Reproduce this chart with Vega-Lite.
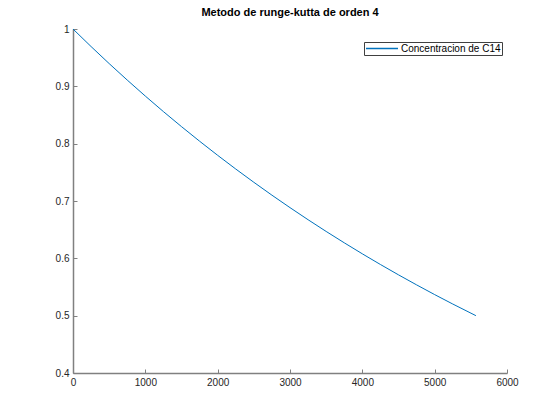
{
  "$schema": "https://vega.github.io/schema/vega-lite/v6.json",
  "autosize": "none",
  "width": 434,
  "height": 344,
  "padding": {"left": 73, "top": 29, "right": 53, "bottom": 47},
  "background": "white",
  "title": {"text": "Metodo de runge-kutta de orden 4", "font": "Liberation Sans", "fontSize": 11, "fontWeight": "bold", "color": "#000000", "offset": 6, "anchor": "middle"},
  "data": {"values": [
    {"t": 0, "c": 1, "s": "Concentracion de C14"},
    {"t": 250, "c": 0.96937, "s": "Concentracion de C14"},
    {"t": 500, "c": 0.93968, "s": "Concentracion de C14"},
    {"t": 750, "c": 0.91089, "s": "Concentracion de C14"},
    {"t": 1000, "c": 0.88299, "s": "Concentracion de C14"},
    {"t": 1250, "c": 0.85594, "s": "Concentracion de C14"},
    {"t": 1500, "c": 0.82972, "s": "Concentracion de C14"},
    {"t": 1750, "c": 0.80431, "s": "Concentracion de C14"},
    {"t": 2000, "c": 0.77967, "s": "Concentracion de C14"},
    {"t": 2250, "c": 0.75578, "s": "Concentracion de C14"},
    {"t": 2500, "c": 0.73263, "s": "Concentracion de C14"},
    {"t": 2750, "c": 0.71019, "s": "Concentracion de C14"},
    {"t": 3000, "c": 0.68843, "s": "Concentracion de C14"},
    {"t": 3250, "c": 0.66734, "s": "Concentracion de C14"},
    {"t": 3500, "c": 0.6469, "s": "Concentracion de C14"},
    {"t": 3750, "c": 0.62709, "s": "Concentracion de C14"},
    {"t": 4000, "c": 0.60787, "s": "Concentracion de C14"},
    {"t": 4250, "c": 0.58925, "s": "Concentracion de C14"},
    {"t": 4500, "c": 0.5712, "s": "Concentracion de C14"},
    {"t": 4750, "c": 0.55371, "s": "Concentracion de C14"},
    {"t": 5000, "c": 0.53674, "s": "Concentracion de C14"},
    {"t": 5250, "c": 0.5203, "s": "Concentracion de C14"},
    {"t": 5570, "c": 0.5, "s": "Concentracion de C14"}
  ]},
  "mark": {"type": "line", "strokeWidth": 1, "interpolate": "monotone"},
  "encoding": {
    "x": {"field": "t", "type": "quantitative", "scale": {"domain": [0, 6000], "nice": false, "zero": false},
      "axis": {"values": [0, 1000, 2000, 3000, 4000, 5000, 6000], "format": "d", "title": null, "grid": false,
        "domainColor": "#808080", "domainWidth": 1.5, "tickColor": "#808080", "tickSize": -4, "tickWidth": 1,
        "labelFont": "Liberation Sans", "labelFontSize": 10, "labelColor": "#262626", "labelPadding": 8, "labelFlush": false}},
    "y": {"field": "c", "type": "quantitative", "scale": {"domain": [0.4, 1], "nice": false, "zero": false},
      "axis": {"values": [0.4, 0.5, 0.6, 0.7, 0.8, 0.9, 1], "format": ".1~f", "title": null, "grid": false,
        "domainColor": "#808080", "domainWidth": 1.5, "tickColor": "#808080", "tickSize": -4, "tickWidth": 1,
        "labelFont": "Liberation Sans", "labelFontSize": 10, "labelColor": "#262626", "labelPadding": 8, "labelFlush": false}},
    "color": {"field": "s", "type": "nominal", "scale": {"range": ["#0072BD"]},
      "legend": {"title": null, "orient": "none", "legendX": 291, "legendY": 13, "strokeColor": "#404040", "fillColor": "white",
        "padding": 1, "symbolType": "stroke", "symbolSize": 1024, "symbolStrokeWidth": 1.5, "clipHeight": 11,
        "labelFont": "Liberation Sans", "labelFontSize": 10, "labelColor": "#000000", "labelOffset": 2}}
  },
  "config": {"view": {"stroke": null}}
}
